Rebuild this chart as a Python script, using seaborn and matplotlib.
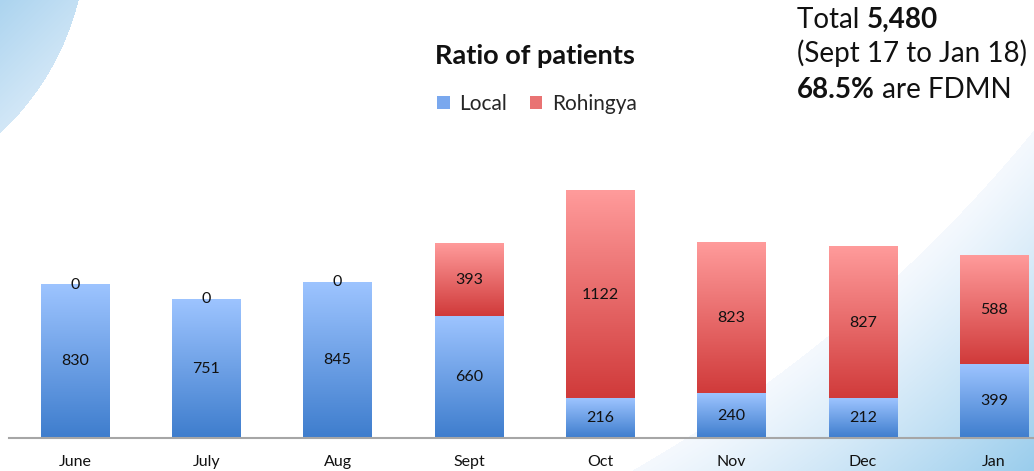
import numpy as np
import matplotlib
matplotlib.use("Agg")
import matplotlib.pyplot as plt
import seaborn as sns
from matplotlib.patches import Patch

months = ["June", "July", "Aug", "Sept", "Oct", "Nov", "Dec", "Jan"]
local = [830, 751, 845, 660, 216, 240, 212, 399]
rohingya = [0, 0, 0, 393, 1122, 823, 827, 588]
series_names = ["Local", "Rohingya"]
title = "Ratio of patients"

sns.set_theme(style="white")
plt.rcParams["font.family"] = ["Lato", "DejaVu Sans"]

W, H = 1034, 471
fig = plt.figure(figsize=(W / 100, H / 100), dpi=100)
fig.patch.set_facecolor("white")

# ---- decorative background ----
bg = fig.add_axes([0, 0, 1, 1], zorder=-5)
bg.set_xlim(0, W); bg.set_ylim(H, 0); bg.axis("off")
yy, xx = np.mgrid[0:H, 0:W].astype(float)
img = np.ones((H, W, 3))
# top-left swoosh
d1 = np.hypot(xx + 184, yy + 65)
m1 = d1 < 270
t1 = np.clip((xx + yy) / 200.0, 0, 1)[..., None]
c_a = np.array([172, 212, 239]) / 255
c_b = np.array([230, 241, 251]) / 255
tl = c_a * (1 - t1) + c_b * t1
img[m1] = tl[m1]
# bottom-right swoosh
d2 = np.hypot(xx + 89, yy + 788) - 1450
m2 = d2 > 0
t2 = np.clip(d2 / 240.0, 0, 1) ** 1.1
t2 = t2[..., None]
c_c = np.array([245, 249, 254]) / 255
c_d = np.array([152, 204, 236]) / 255
br = c_c * (1 - t2) + c_d * t2
img[m2] = br[m2]
bg.imshow(img, extent=[0, W, H, 0], aspect="auto", interpolation="bilinear")

# ---- chart axes ----
step = 131.3
left_px = 75 - 0.5 * step
ax = fig.add_axes([left_px / W, 33 / H, 8 * step / W, 1400 * 0.1845 / H])
ax.patch.set_alpha(0)

totals = [a + b for a, b in zip(local, rohingya)]
sns.barplot(x=months, y=totals, color="#E86A6A", width=0.52, ax=ax)
sns.barplot(x=months, y=local, color="#6FA0E8", width=0.52, ax=ax)

def grad(top_rgb, bot_rgb, n=256):
    t = np.linspace(0, 1, n)[:, None, None]
    top = np.array(top_rgb)[None, None, :] / 255
    bot = np.array(bot_rgb)[None, None, :] / 255
    return top * (1 - t) + bot * t

blue_img = grad((157, 196, 255), (62, 125, 205))
red_img = grad((255, 155, 155), (208, 58, 58))

patches = list(ax.patches)
n = len(months)
tot_patches = patches[:n]
loc_patches = patches[n:2 * n]
for i in range(n):
    tp, lp = tot_patches[i], loc_patches[i]
    x0, w = tp.get_x(), tp.get_width()
    tp.set_facecolor("none"); tp.set_edgecolor("none")
    lp.set_facecolor("none"); lp.set_edgecolor("none")
    if rohingya[i] > 0:
        ax.imshow(red_img, extent=[x0, x0 + w, local[i], totals[i]],
                  aspect="auto", origin="upper", zorder=2, interpolation="bilinear")
    ax.imshow(blue_img, extent=[x0, x0 + w, 0, local[i]],
              aspect="auto", origin="upper", zorder=2, interpolation="bilinear")
    xc = x0 + w / 2
    ax.text(xc, local[i] / 2, f"{local[i]}", ha="center", va="center",
            fontsize=11.5, color="#111111", zorder=5)
    ax.text(xc, local[i] + rohingya[i] / 2, f"{rohingya[i]}", ha="center", va="center",
            fontsize=11.5, color="#111111", zorder=5)

ax.set_xlim(-0.5, 7.5)
ax.set_ylim(0, 1400)
ax.set_yticks([])
ax.set_ylabel("")
ax.set_xlabel("")
for s in ["top", "left", "right"]:
    ax.spines[s].set_visible(False)
ax.spines["bottom"].set_color("#A6A6A6")
ax.spines["bottom"].set_linewidth(1.5)
ax.spines["bottom"].set_zorder(6)
ax.tick_params(axis="x", length=0, pad=12, labelsize=11.5, labelcolor="#111111")

# ---- title & legend ----
fig.text(535 / W, 1 - 56 / H, title, ha="center", va="center",
         fontsize=19.5, fontweight="bold", color="#111111")
handles = [Patch(facecolor="#7AA8EE", edgecolor="none"),
           Patch(facecolor="#E97373", edgecolor="none")]
fig.legend(handles, series_names, loc="center", bbox_to_anchor=(537 / W, 1 - 104 / H),
           ncol=2, frameon=False, fontsize=15, handlelength=0.6, handleheight=0.6,
           handletextpad=0.45, columnspacing=1.1)

# ---- annotation top right ----
renderer = fig.canvas.get_renderer()
fs = 20
x_start = 797 / W
lines = [[("Total ", "normal"), ("5,480", "bold")],
         [("(Sept 17 to Jan 18)", "normal")],
         [("68.5%", "bold"), (" are FDMN", "normal")]]
baselines = [28, 62, 98]
for parts, by in zip(lines, baselines):
    x = x_start
    for txt, wt in parts:
        t = fig.text(x, 1 - by / H, txt, ha="left", va="baseline", fontsize=fs,
                     fontweight=wt, color="#111111")
        bb = t.get_window_extent(renderer)
        x += bb.width / W

fig.savefig("out.png", dpi=100)
